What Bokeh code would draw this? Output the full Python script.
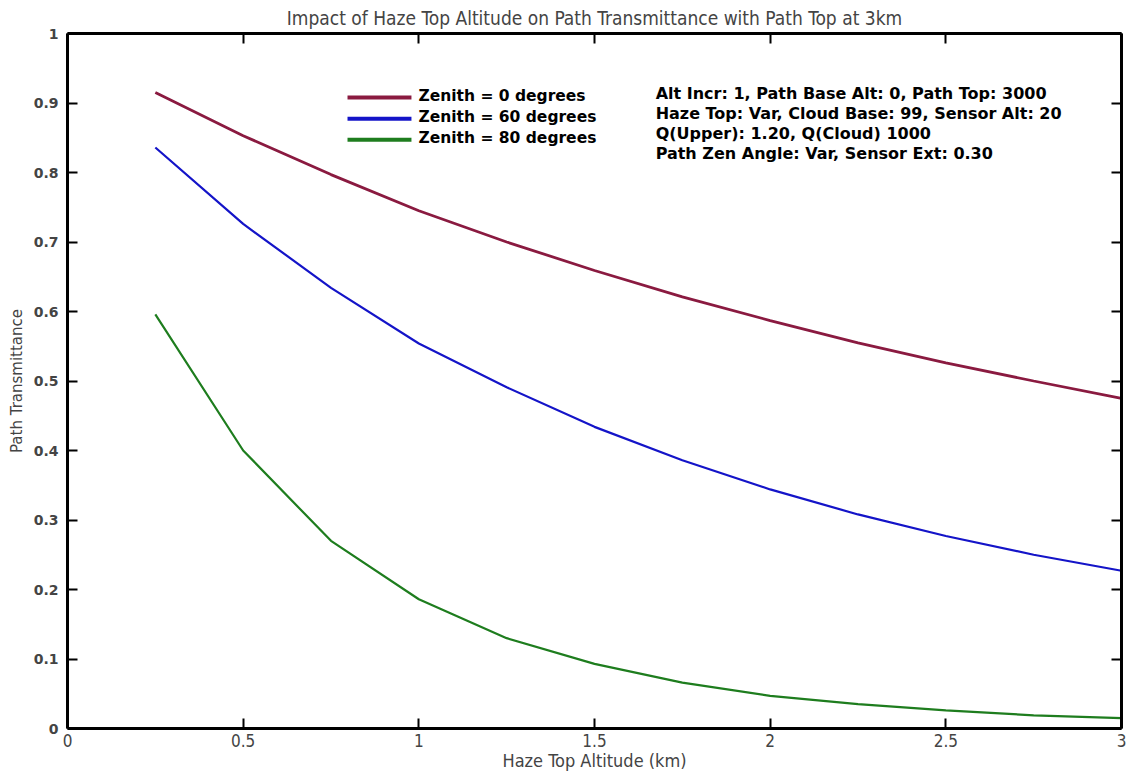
from bokeh.plotting import figure
from bokeh.models import LinearAxis, FixedTicker, Range1d, Label
from bokeh.embed import file_html
from bokeh.resources import INLINE

haze_top_km = [0.25, 0.5, 0.75, 1.0, 1.25, 1.5, 1.75, 2.0, 2.25, 2.5, 2.75, 3.0]
zenith_0 = [0.915, 0.853, 0.797, 0.745, 0.700, 0.659, 0.621, 0.587, 0.555, 0.526, 0.500, 0.475]
zenith_60 = [0.836, 0.726, 0.634, 0.554, 0.491, 0.434, 0.386, 0.344, 0.308, 0.277, 0.250, 0.227]
zenith_80 = [0.596, 0.400, 0.270, 0.186, 0.130, 0.093, 0.066, 0.047, 0.035, 0.026, 0.019, 0.015]

series_names = ["Zenith = 0 degrees", "Zenith = 60 degrees", "Zenith = 80 degrees"]
series_colors = ["#8a1a40", "#1414c8", "#1e7d1e"]

x_ticks = [0, 0.5, 1, 1.5, 2, 2.5, 3]
x_tick_labels = ["0", "0.5", "1", "1.5", "2", "2.5", "3"]
y_ticks = [0, 0.1, 0.2, 0.3, 0.4, 0.5, 0.6, 0.7, 0.8, 0.9, 1]
y_tick_labels = ["0", "0.1", "0.2", "0.3", "0.4", "0.5", "0.6", "0.7", "0.8", "0.9", "1"]

title_text = "Impact of Haze Top Altitude on Path Transmittance with Path Top at 3km"
info_lines = [
    "Alt Incr: 1, Path Base Alt: 0, Path Top: 3000",
    "Haze Top: Var, Cloud Base: 99, Sensor Alt: 20",
    "Q(Upper): 1.20, Q(Cloud) 1000",
    "Path Zen Angle: Var, Sensor Ext: 0.30",
]

NARROW = "Liberation Sans Narrow, DejaVu Sans Condensed, sans-serif"
WIDE = "DejaVu Sans"

p = figure(width=1126, height=773, output_backend="svg", toolbar_location=None,
           x_range=Range1d(0, 3), y_range=Range1d(0, 1),
           min_border_left=67, min_border_right=5, min_border_top=0, min_border_bottom=40,
           x_axis_location=None, y_axis_location=None)
p.outline_line_color = None
p.grid.visible = False
p.background_fill_color = "white"
p.border_fill_color = "white"

p.title.text = title_text
p.title.align = "center"
p.title.text_font = NARROW
p.title.text_font_size = "19px"
p.title.text_font_style = "normal"
p.title.standoff = 9

def mk_axis(ticks, labels, show_labels):
    ax = LinearAxis(ticker=FixedTicker(ticks=ticks))
    ax.major_label_overrides = {t: l for t, l in zip(ticks, labels)}
    ax.axis_line_width = 3
    ax.axis_line_color = "black"
    ax.major_tick_in = 10
    ax.major_tick_out = 0
    ax.major_tick_line_width = 2
    ax.minor_tick_line_color = None
    if not show_labels:
        ax.major_label_text_font_size = "0px"
        ax.major_label_text_color = None
        ax.major_label_standoff = 0
    return ax

bottom = mk_axis(x_ticks, x_tick_labels, True)
bottom.major_label_text_font = NARROW
bottom.major_label_text_font_size = "17px"
bottom.major_label_standoff = 5
bottom.axis_label = "Haze Top Altitude (km)"
bottom.axis_label_text_font = NARROW
bottom.axis_label_text_font_size = "18px"
bottom.axis_label_text_font_style = "normal"
bottom.axis_label_standoff = 0
p.add_layout(bottom, "below")

left = mk_axis(y_ticks, y_tick_labels, True)
left.major_label_text_font = WIDE
left.major_label_text_font_style = "bold"
left.major_label_text_font_size = "14px"
left.major_label_standoff = 9
left.axis_label = "Path Transmittance"
left.axis_label_text_font = WIDE
left.axis_label_text_font_size = "15px"
left.axis_label_text_font_style = "normal"
left.axis_label_standoff = 5
p.add_layout(left, "left")

top = mk_axis(x_ticks, x_tick_labels, False)
p.add_layout(top, "above")
right = mk_axis(y_ticks, y_tick_labels, False)
p.add_layout(right, "right")

for vals, col, w in zip([zenith_0, zenith_60, zenith_80], series_colors, [2.8, 2.2, 2.2]):
    p.line(haze_top_km, vals, line_color=col, line_width=w)

# Legend (drawn manually)
leg_y = [0.9078, 0.8775, 0.8473]
for name, col, yy in zip(series_names, series_colors, leg_y):
    p.line([0.797, 0.979], [yy, yy], line_color=col, line_width=4)
    p.add_layout(Label(x=0.999, y=yy + 0.002, text=name, text_font=WIDE, text_font_style="bold",
                       text_font_size="15.5px", text_baseline="middle", text_color="black"))

info_y = [0.9135, 0.8847, 0.8559, 0.8271]
for txt, yy in zip(info_lines, info_y):
    p.add_layout(Label(x=1.674, y=yy, text=txt, text_font=WIDE, text_font_style="bold",
                       text_font_size="16px", text_baseline="middle", text_color="black"))

open("out.html", "w").write(file_html(p, INLINE))
